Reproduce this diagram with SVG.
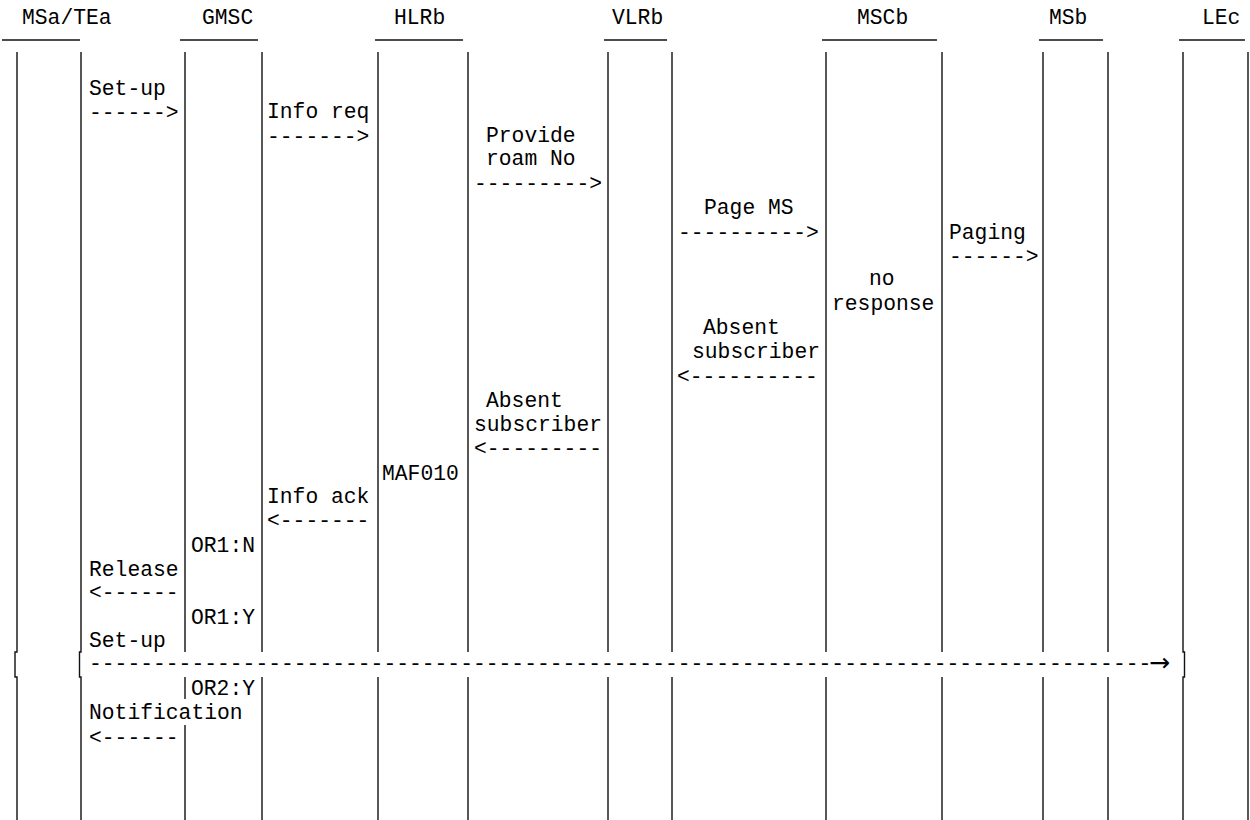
<svg xmlns="http://www.w3.org/2000/svg" width="1250" height="820" viewBox="0 0 1250 820">
<style>
text{font-family:"Liberation Mono","DejaVu Sans Mono",monospace;font-size:21.33px;fill:#000}
.ln{stroke:#111;stroke-width:1.4;fill:none}
.ul{stroke:#111;stroke-width:1.4}
.arr{font-family:"DejaVu Sans",sans-serif;font-size:25px}
</style>
<rect width="1250" height="820" fill="#fff"/>
<g id="node-msa">
<text x="22" y="24">MSa/TEa</text>
<line class="ul" x1="2" y1="40" x2="80" y2="40"/>
<path class="ln" d="M17,52V652H15V677H17V820"/>
<path class="ln" d="M81,52V652H79.5V677H81V820"/>
</g>
<g id="node-gmsc">
<text x="202" y="24">GMSC</text>
<line class="ul" x1="180" y1="40" x2="258" y2="40"/>
<path class="ln" d="M185,52V652M185,677V699M185,725V820"/>
<path class="ln" d="M262,52V652M262,677V820"/>
<text x="191" y="552">OR1:N</text>
<text x="191" y="624">OR1:Y</text>
<text x="191" y="695">OR2:Y</text>
</g>
<g id="node-hlrb">
<text x="394" y="24">HLRb</text>
<line class="ul" x1="375" y1="40" x2="463" y2="40"/>
<path class="ln" d="M378,52V652M378,677V820"/>
<path class="ln" d="M468,52V652M468,677V820"/>
<text x="382" y="480">MAF010</text>
</g>
<g id="node-vlrb">
<text x="612" y="24">VLRb</text>
<line class="ul" x1="604" y1="40" x2="667" y2="40"/>
<path class="ln" d="M608,52V652M608,677V820"/>
<path class="ln" d="M672,52V652M672,677V820"/>
</g>
<g id="node-mscb">
<text x="857" y="24">MSCb</text>
<line class="ul" x1="822" y1="40" x2="937" y2="40"/>
<path class="ln" d="M826,52V652M826,677V820"/>
<path class="ln" d="M942,52V652M942,677V820"/>
<text x="869" y="285">no</text>
<text x="832" y="310">response</text>
</g>
<g id="node-msb">
<text x="1049" y="24">MSb</text>
<line class="ul" x1="1039" y1="40" x2="1103" y2="40"/>
<path class="ln" d="M1043,52V652M1043,677V820"/>
<path class="ln" d="M1108,52V652M1108,677V820"/>
</g>
<g id="node-lec">
<text x="1202" y="24">LEc</text>
<line class="ul" x1="1179" y1="40" x2="1245" y2="40"/>
<path class="ln" d="M1183,52V652H1184.5V677H1183V820"/>
<path class="ln" d="M1248,52V820"/>
</g>
<g id="connectors">
<text x="89" y="95">Set-up</text>
<text x="89" y="119">------&gt;</text>
<text x="267" y="118">Info req</text>
<text x="267" y="143">-------&gt;</text>
<text x="486" y="142">Provide</text>
<text x="486" y="165">roam No</text>
<text x="474" y="190">---------&gt;</text>
<text x="704" y="214">Page MS</text>
<text x="678" y="239">----------&gt;</text>
<text x="949" y="239">Paging</text>
<text x="949" y="263">------&gt;</text>
<text x="703" y="334">Absent</text>
<text x="692" y="358">subscriber</text>
<text x="677" y="383">&lt;----------</text>
<text x="486" y="407">Absent</text>
<text x="474" y="431">subscriber</text>
<text x="474" y="455">&lt;---------</text>
<text x="267" y="503">Info ack</text>
<text x="267" y="527">&lt;-------</text>
<text x="89" y="576">Release</text>
<text x="89" y="599">&lt;------</text>
<text x="89" y="647">Set-up</text>
<text x="89" y="670">-----------------------------------------------------------------------------------</text>
<text class="arr" x="1149" y="671">→</text>
<text x="89" y="719">Notification</text>
<text x="89" y="744">&lt;------</text>
</g>
</svg>
